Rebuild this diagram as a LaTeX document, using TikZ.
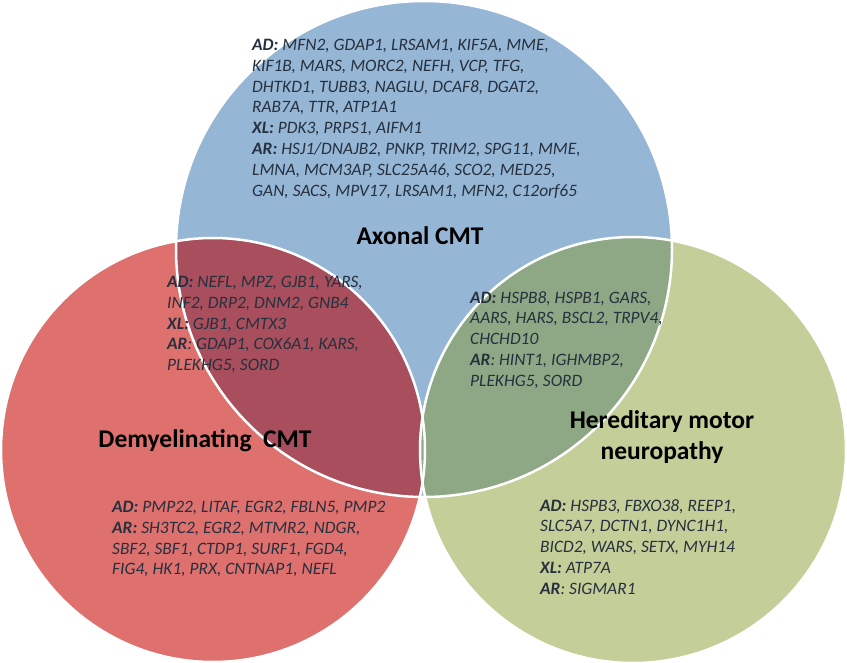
\documentclass[tikz,border=0pt]{standalone}
\usepackage{fontspec}
\setmainfont{Carlito}
\definecolor{cblue}{RGB}{150,182,214}
\definecolor{cred}{RGB}{222,112,110}
\definecolor{cgreen}{RGB}{196,206,152}
\definecolor{crb}{RGB}{168,78,92}
\definecolor{cgb}{RGB}{142,168,134}
\definecolor{ctxt}{RGB}{38,48,62}
\begin{document}
\begin{tikzpicture}[x=1pt,y=-1pt,
  genes/.style={anchor=north west,inner sep=0,align=left,text=ctxt,font=\fontsize{17.4}{20.8}\selectfont\itshape},
  ttl/.style={align=center,text=black,font=\fontsize{25.5}{31}\selectfont\bfseries},
  rim/.style={draw=white,line width=2.5pt}]
\useasboundingbox (0,0) rectangle (847,663);
\coordinate (cb) at (424,249);
\coordinate (cr) at (213,450);
\coordinate (cg) at (633,450);
\fill[cblue] (cb) circle (248);
\fill[cred] (cr) circle (212);
\fill[cgreen] (cg) circle (213);
\begin{scope}\clip (cb) circle (248); \fill[crb] (cr) circle (212); \fill[cgb] (cg) circle (213);\end{scope}
\draw[rim] (cb) circle (248);
\draw[rim] (cr) circle (212);
\draw[rim] (cg) circle (213);
\node[genes] (t1) at (252,39) {\textbf{AD:} MFN2, GDAP1, LRSAM1, KIF5A, MME,\\ KIF1B, MARS, MORC2, NEFH, VCP, TFG,\\ DHTKD1, TUBB3, NAGLU, DCAF8, DGAT2,\\ RAB7A, TTR, ATP1A1\\ \textbf{XL:} PDK3, PRPS1, AIFM1\\ \textbf{AR:} HSJ1/DNAJB2, PNKP, TRIM2, SPG11, MME,\\ LMNA, MCM3AP, SLC25A46, SCO2, MED25,\\ GAN, SACS, MPV17, LRSAM1, MFN2, C12orf65};
\node[genes] (t2) at (167,276) {\textbf{AD:} NEFL, MPZ, GJB1, YARS,\\ INF2, DRP2, DNM2, GNB4\\ \textbf{XL:} GJB1, CMTX3\\ \textbf{AR}: GDAP1, COX6A1, KARS,\\ PLEKHG5, SORD};
\node[genes] (t3) at (470,291) {\textbf{AD:} HSPB8, HSPB1, GARS,\\ AARS, HARS, BSCL2, TRPV4,\\ CHCHD10\\ \textbf{AR}: HINT1, IGHMBP2,\\ PLEKHG5, SORD};
\node[genes] (t4) at (112,501) {\textbf{AD:} PMP22, LITAF, EGR2, FBLN5, PMP2\\ \textbf{AR:} SH3TC2, EGR2, MTMR2, NDGR,\\ SBF2, SBF1, CTDP1, SURF1, FGD4,\\ FIG4, HK1, PRX, CNTNAP1, NEFL};
\node[genes] (t5) at (540,499) {\textbf{AD:} HSPB3, FBXO38, REEP1,\\ SLC5A7, DCTN1, DYNC1H1,\\ BICD2, WARS, SETX, MYH14\\ \textbf{XL:} ATP7A\\ \textbf{AR}: SIGMAR1};
\node[ttl] (a) at (420,236) {Axonal CMT};
\node[ttl] (d) at (205,441) {Demyelinating\ \ CMT};
\node[ttl] (h) at (662,437) {Hereditary motor\\ neuropathy};
\end{tikzpicture}
\end{document}
